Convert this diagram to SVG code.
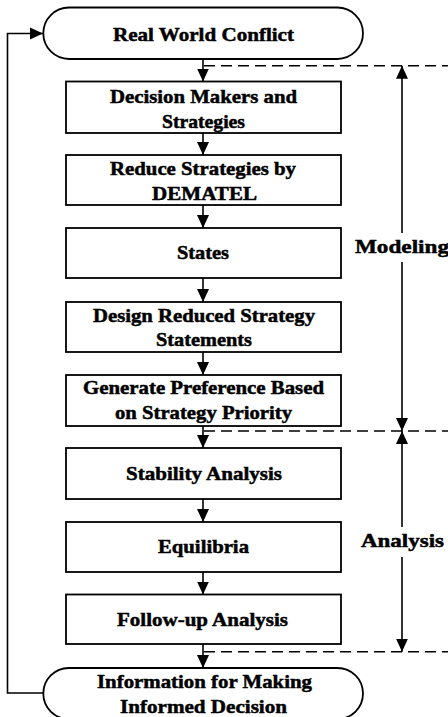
<svg xmlns="http://www.w3.org/2000/svg" width="448" height="717" viewBox="0 0 448 717">
  <style>
    .box { fill: #ffffff; stroke: #000000; stroke-width: 1.8; }
    .lbl { font-family: "Liberation Serif", "Times New Roman", serif; font-weight: bold; font-size: 19.5px; fill: #000000; stroke: #000000; stroke-width: 0.5; }
    .ln { fill: none; stroke: #000000; stroke-width: 1.6; }
    .dash { fill: none; stroke: #000000; stroke-width: 1.6; stroke-dasharray: 11 6; }
  </style>
  <defs>
    <marker id="ah" markerUnits="userSpaceOnUse" markerWidth="13" markerHeight="13" viewBox="0 0 13 12" refX="13" refY="6" orient="auto">
      <path d="M0,0 L13,6 L0,12 Z" fill="#000000"/>
    </marker>
  </defs>
  <rect width="448" height="717" fill="#ffffff"/>

  <!-- connectors -->
  <g id="connectors">
    <line class="ln" x1="203" y1="59" x2="203" y2="81.5" marker-end="url(#ah)"/>
    <line class="ln" x1="203" y1="133" x2="203" y2="155" marker-end="url(#ah)"/>
    <line class="ln" x1="203" y1="205" x2="203" y2="228" marker-end="url(#ah)"/>
    <line class="ln" x1="203" y1="278" x2="203" y2="302" marker-end="url(#ah)"/>
    <line class="ln" x1="203" y1="352" x2="203" y2="375" marker-end="url(#ah)"/>
    <line class="ln" x1="203" y1="426" x2="203" y2="448" marker-end="url(#ah)"/>
    <line class="ln" x1="203" y1="499" x2="203" y2="522" marker-end="url(#ah)"/>
    <line class="ln" x1="203" y1="572" x2="203" y2="594.5" marker-end="url(#ah)"/>
    <line class="ln" x1="203" y1="644" x2="203" y2="668" marker-end="url(#ah)"/>
    <!-- feedback loop -->
    <path class="ln" d="M43,693 H7.5 V33.5 H43" marker-end="url(#ah)"/>
    <!-- phase boundaries -->
    <line class="dash" x1="204" y1="65.7" x2="448" y2="65.7"/>
    <line class="dash" x1="204" y1="431" x2="448" y2="431"/>
    <line class="dash" x1="204" y1="651.7" x2="448" y2="651.7"/>
    <!-- modeling span -->
    <line class="ln" x1="402" y1="233" x2="402" y2="65.7" marker-end="url(#ah)"/>
    <line class="ln" x1="402" y1="262" x2="402" y2="431" marker-end="url(#ah)"/>
    <!-- analysis span -->
    <line class="ln" x1="402" y1="527" x2="402" y2="431" marker-end="url(#ah)"/>
    <line class="ln" x1="402" y1="557" x2="402" y2="651.7" marker-end="url(#ah)"/>
  </g>

  <g id="start">
    <rect class="box" x="43.3" y="7.5" width="319.7" height="51.5" rx="25.75" ry="25.75"/>
    <text class="lbl" x="113" y="40.7" textLength="181" lengthAdjust="spacingAndGlyphs">Real World Conflict</text>
  </g>
  <g id="decision-makers">
    <rect class="box" x="66" y="81.5" width="275" height="51.5"/>
    <text class="lbl" x="110" y="102.7" textLength="187" lengthAdjust="spacingAndGlyphs">Decision Makers and</text>
    <text class="lbl" x="162" y="127.7" textLength="83" lengthAdjust="spacingAndGlyphs">Strategies</text>
  </g>
  <g id="reduce">
    <rect class="box" x="66" y="155" width="275" height="50"/>
    <text class="lbl" x="110" y="175" textLength="186" lengthAdjust="spacingAndGlyphs">Reduce Strategies by</text>
    <text class="lbl" x="152" y="200" textLength="105" lengthAdjust="spacingAndGlyphs">DEMATEL</text>
  </g>
  <g id="states">
    <rect class="box" x="66" y="228" width="275" height="50"/>
    <text class="lbl" x="177" y="259" textLength="52" lengthAdjust="spacingAndGlyphs">States</text>
  </g>
  <g id="statements">
    <rect class="box" x="66" y="302" width="275" height="50"/>
    <text class="lbl" x="93" y="321.7" textLength="222" lengthAdjust="spacingAndGlyphs">Design Reduced Strategy</text>
    <text class="lbl" x="156" y="346" textLength="96" lengthAdjust="spacingAndGlyphs">Statements</text>
  </g>
  <g id="preference">
    <rect class="box" x="66" y="375" width="275" height="51"/>
    <text class="lbl" x="83" y="394" textLength="241" lengthAdjust="spacingAndGlyphs">Generate Preference Based</text>
    <text class="lbl" x="115" y="419" textLength="177" lengthAdjust="spacingAndGlyphs">on Strategy Priority</text>
  </g>
  <g id="stability">
    <rect class="box" x="66" y="448" width="275" height="51"/>
    <text class="lbl" x="126" y="480" textLength="156" lengthAdjust="spacingAndGlyphs">Stability Analysis</text>
  </g>
  <g id="equilibria">
    <rect class="box" x="66" y="522" width="275" height="50"/>
    <text class="lbl" x="158" y="553" textLength="91" lengthAdjust="spacingAndGlyphs">Equilibria</text>
  </g>
  <g id="follow-up">
    <rect class="box" x="66" y="594.5" width="275" height="49.5"/>
    <text class="lbl" x="117" y="626" textLength="171" lengthAdjust="spacingAndGlyphs">Follow-up Analysis</text>
  </g>
  <g id="end">
    <rect class="box" x="43.3" y="668" width="319.7" height="51" rx="25.5" ry="25.5"/>
    <text class="lbl" x="97" y="688" textLength="215" lengthAdjust="spacingAndGlyphs">Information for Making</text>
    <text class="lbl" x="120" y="713" textLength="167" lengthAdjust="spacingAndGlyphs">Informed Decision</text>
  </g>
  <g id="phase-labels">
    <text class="lbl" x="355" y="253" textLength="94" lengthAdjust="spacingAndGlyphs">Modeling</text>
    <text class="lbl" x="361" y="547" textLength="83" lengthAdjust="spacingAndGlyphs">Analysis</text>
  </g>
</svg>
